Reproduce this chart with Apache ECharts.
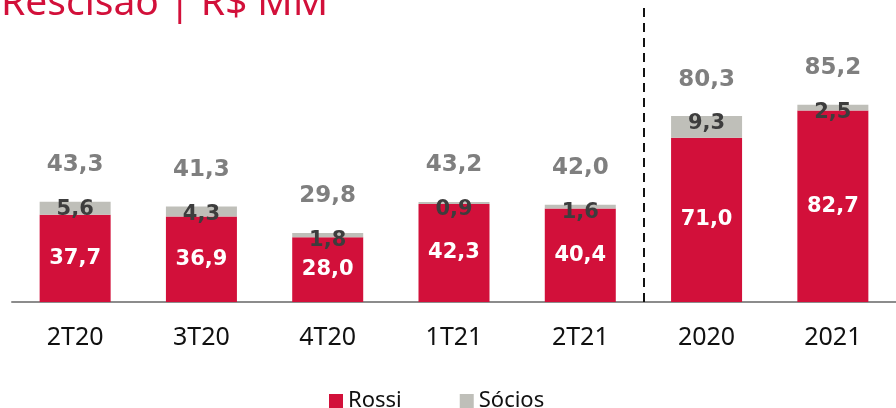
<!DOCTYPE html>
<html>
<head>
<meta charset="utf-8">
<script src="https://cdn.jsdelivr.net/npm/echarts@6/dist/echarts.min.js"></script>
<style>
  html, body { margin: 0; padding: 0; background: #fff; }
  #chart { width: 896px; height: 408px; }
</style>
</head>
<body>
<div id="chart"></div>
<script>
// dados do gráfico
var categorias = ['2T20', '3T20', '4T20', '1T21', '2T21', '2020', '2021'];
var rossi = [37.7, 36.9, 28.0, 42.3, 40.4, 71.0, 82.7];
var socios = [5.6, 4.3, 1.8, 0.9, 1.6, 9.3, 2.5];
var totais = [43.3, 41.3, 29.8, 43.2, 42.0, 80.3, 85.2];
var divisao = 5; // linha tracejada entre trimestres e anos

var VERMELHO = '#d2103a';
var CINZA = '#bfbfb9';

function fmt(v) {
  return v.toFixed(1).replace('.', ',');
}

var myChart = echarts.init(document.getElementById('chart'));

var option = {
  animation: false,
  title: {
    text: 'Rescisão | R$ MM',
    left: -4,
    top: -21,
    textStyle: { color: VERMELHO, fontFamily: 'Noto Sans', fontWeight: 'normal', fontSize: 39 }
  },
  legend: {
    data: ['Rossi', 'Sócios'],
    left: 324,
    top: 385,
    icon: 'rect',
    itemWidth: 14,
    itemHeight: 14,
    itemGap: 58,
    textStyle: { color: '#111', fontFamily: 'Noto Sans', fontSize: 22 }
  },
  grid: { left: 12, right: -6, top: 8, bottom: 106 },
  xAxis: [
    {
      type: 'category',
      data: categorias,
      axisLine: { lineStyle: { color: '#8c8c8c', width: 2 } },
      axisTick: { length: 9, lineStyle: { color: '#8c8c8c', width: 2 } },
      axisLabel: { color: '#111', fontFamily: 'Noto Sans', fontSize: 25, margin: 23 }
    },
    { type: 'value', min: 0, max: 7, show: false }
  ],
  yAxis: { type: 'value', min: 0, max: 127, show: false },
  series: [
    {
      name: 'Rossi',
      type: 'bar',
      stack: 'a',
      barWidth: 71,
      data: rossi,
      itemStyle: { color: VERMELHO },
      label: {
        show: true, position: 'inside', color: '#fff',
        fontFamily: 'DejaVu Sans', fontWeight: 'bold', fontSize: 21,
        formatter: function (p) { return fmt(p.value); }
      }
    },
    {
      name: 'Sócios',
      type: 'bar',
      stack: 'a',
      barWidth: 71,
      data: socios,
      itemStyle: { color: CINZA },
      label: {
        show: true, position: 'top', distance: -18, color: '#3d3d3d',
        fontFamily: 'DejaVu Sans', fontWeight: 'bold', fontSize: 21,
        formatter: function (p) { return fmt(p.value); }
      }
    },
    {
      name: 'Total',
      type: 'bar',
      barWidth: 71,
      barGap: '-100%',
      data: totais,
      z: 1,
      itemStyle: { color: 'rgba(0,0,0,0)' },
      label: {
        show: true, position: 'top', distance: 25, color: '#7f7f7f',
        fontFamily: 'DejaVu Sans', fontWeight: 'bold', fontSize: 23,
        formatter: function (p) { return fmt(p.value); }
      }
    },
    {
      name: 'divisao',
      type: 'line',
      xAxisIndex: 1,
      data: [[0, 0]],
      symbol: 'none',
      lineStyle: { opacity: 0 },
      markLine: {
        silent: true,
        symbol: 'none',
        label: { show: false },
        lineStyle: { color: '#111', type: [9, 6], width: 2 },
        data: [{ xAxis: divisao }]
      }
    }
  ]
};

myChart.setOption(option);
</script>
</body>
</html>
